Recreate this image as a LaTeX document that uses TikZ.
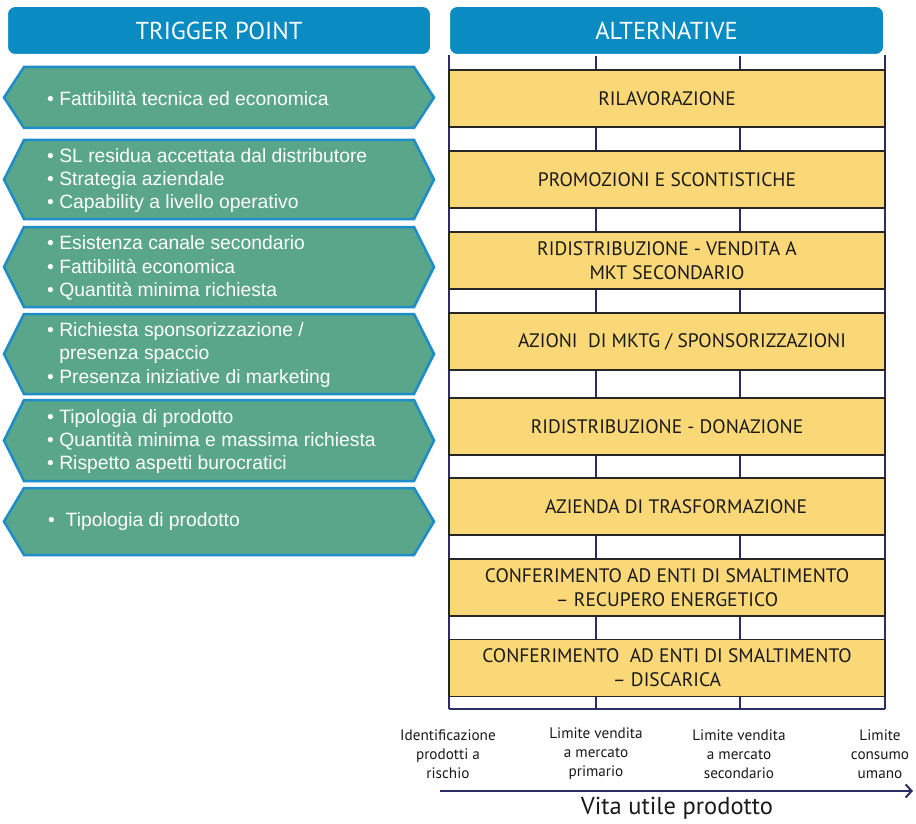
\documentclass[tikz,border=0pt]{standalone}
\usepackage{fontspec}
\setmainfont{PT Sans}
\newfontfamily\arialfont{Liberation Sans}
\usepackage{tikz}
\usetikzlibrary{arrows.meta,shadows}

\definecolor{headblue}{HTML}{0A8CC2}
\definecolor{hexgreen}{HTML}{5AA68A}
\definecolor{hexblue}{HTML}{1C8DC8}
\definecolor{altyellow}{HTML}{FAD877}
\definecolor{gridnavy}{HTML}{2C2C64}

\tikzset{
  head/.style={rounded corners=8pt, fill=headblue, draw=white, line width=2pt,
    text=white, minimum height=49pt, font=\fontsize{24.5}{28}\selectfont,
    drop shadow={opacity=0.2, shadow xshift=0pt, shadow yshift=-1pt}},
  trig/.style={fill=hexgreen, draw=hexblue, line width=2.5pt, line join=miter},
  trigtext/.style={anchor=west, text=white, align=left, inner sep=0pt,
    font=\arialfont\fontsize{19.3}{23.3}\selectfont},
  alt/.style={fill=altyellow, draw=black!85, line width=1.2pt, minimum width=436pt,
    minimum height=57pt, align=center, text=black!90,
    font=\fontsize{19.5}{24}\selectfont},
  gridln/.style={draw=gridnavy, line width=1.2pt},
  ticklabel/.style={align=center, text=black!90, font=\fontsize{15.2}{19}\selectfont},
}

\begin{document}
\begin{tikzpicture}[x=1pt,y=-1pt]
\useasboundingbox (0,0) rectangle (916,824);

% columns of the time axis
\foreach \x in {449,596,740,885}
  \draw[gridln] (\x,55) -- (\x,709);
\draw[gridnavy, line width=2.5pt] (449,709) -- (885,709);

% headers
\node[head, minimum width=424pt] (trigger) at (219,30.5) {TRIGGER POINT};
\node[head, minimum width=435pt] (altern) at (666.5,30.5) {ALTERNATIVE};

% trigger points
\draw[trig] (24,67) -- (414,67) -- (434,97.5) -- (414,128) -- (24,128) -- (4,97.5) -- cycle;
\node[trigtext] (t1) at (47,98.5) {• Fattibilità tecnica ed economica};

\draw[trig] (24,140) -- (414,140) -- (434,179.5) -- (414,219) -- (24,219) -- (4,179.5) -- cycle;
\node[trigtext] (t2) at (47,180.5) {• SL residua accettata dal distributore\\• Strategia aziendale\\• Capability a livello operativo};

\draw[trig] (24,227) -- (414,227) -- (434,267) -- (414,307) -- (24,307) -- (4,267) -- cycle;
\node[trigtext] (t3) at (47,268) {• Esistenza canale secondario\\• Fattibilità economica\\• Quantità minima richiesta};

\draw[trig] (24,314) -- (414,314) -- (434,354) -- (414,394) -- (24,394) -- (4,354) -- cycle;
\node[trigtext] (t4) at (47,355) {• Richiesta sponsorizzazione /\\\hphantom{• }presenza spaccio\\• Presenza iniziative di marketing};

\draw[trig] (24,400) -- (414,400) -- (434,440.5) -- (414,481) -- (24,481) -- (4,440.5) -- cycle;
\node[trigtext] (t5) at (47,441.5) {• Tipologia di prodotto\\• Quantità minima e massima richiesta\\• Rispetto aspetti burocratici};

\draw[trig] (24,488) -- (414,488) -- (434,521.5) -- (414,555) -- (24,555) -- (4,521.5) -- cycle;
\node[trigtext] (t6) at (48,522) {•\ \ Tipologia di prodotto};

% alternatives
\node[alt] (a1) at (667,98.5) {RILAVORAZIONE};
\node[alt] (a2) at (667,179.5) {PROMOZIONI E SCONTISTICHE};
\node[alt] (a3) at (667,260.5) {RIDISTRIBUZIONE - VENDITA A\\MKT SECONDARIO};
\node[alt] (a4) at (667,341.5) {\hspace{30pt}AZIONI \ DI MKTG / SPONSORIZZAZIONI};
\node[alt] (a5) at (667,426.5) {RIDISTRIBUZIONE - DONAZIONE};
\node[alt] (a6) at (667,506.5) {\hspace{18pt}AZIENDA DI TRASFORMAZIONE};
\node[alt] (a7) at (667,587.5) {CONFERIMENTO AD ENTI DI SMALTIMENTO\\-- RECUPERO ENERGETICO};
\node[alt] (a8) at (667,668) {CONFERIMENTO \ AD ENTI DI SMALTIMENTO\\-- DISCARICA};

% time axis
\node[ticklabel] (l1) at (448,754) {Identificazione\\prodotti a\\rischio};
\node[ticklabel] (l2) at (596,754) {Limite vendita\\a mercato\\primario};
\node[ticklabel] (l3) at (739,754) {Limite vendita\\a mercato\\secondario};
\node[ticklabel] (l4) at (880,754) {Limite\\consumo\\umano};

\coordinate (ax0) at (440,791);
\coordinate (ax1) at (913,791);
\draw[gridnavy, line width=2.2pt, -{Straight Barb[length=6pt,width=13pt,line width=2pt]}] (ax0) -- (ax1);
\node[text=black!90, font=\fontsize{24.5}{28}\selectfont] (vita) at (677,808) {Vita utile prodotto};
\end{tikzpicture}
\end{document}
